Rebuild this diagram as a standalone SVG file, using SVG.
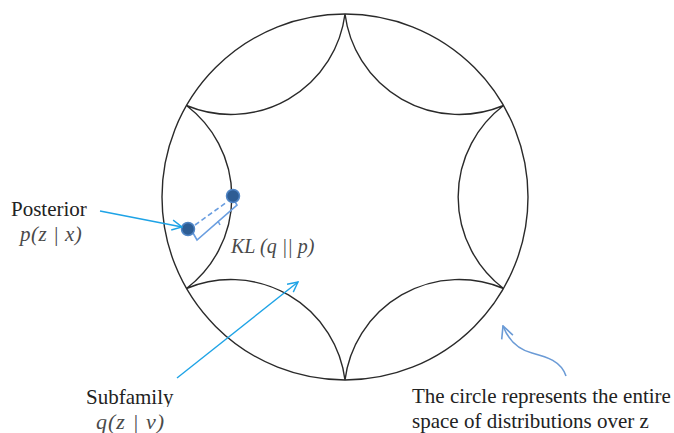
<svg xmlns="http://www.w3.org/2000/svg" width="674" height="433" viewBox="0 0 674 433">
<style>
.ln{fill:none;stroke:#2a2a2a;stroke-width:1.4}
.lbl{font-family:"Liberation Serif","Times New Roman",serif;font-size:21px;fill:#222}
.math{font-family:"Liberation Serif","Times New Roman",serif;font-style:italic;fill:#4a4a4a}
.arr{fill:none;stroke:#1ea3e6;stroke-width:1.4}
.arr2{fill:none;stroke:#6b9bd6;stroke-width:1.6}
.dot{fill:#2e5d94;stroke:#4f84c4;stroke-width:1.5}
.kl{fill:none;stroke:#6a9ee0;stroke-width:1.6}
</style>
<defs>
<marker id="mA" viewBox="0 0 12 12" refX="11" refY="6" markerWidth="12" markerHeight="12" markerUnits="userSpaceOnUse" orient="auto">
<path d="M1,1 L11,6 L1,11" fill="none" stroke="#1ea3e6" stroke-width="1.4"/>
</marker>
<marker id="mB" viewBox="0 0 14 14" refX="13" refY="7" markerWidth="14" markerHeight="14" markerUnits="userSpaceOnUse" orient="auto">
<path d="M1,1 L13,7 L1,13" fill="none" stroke="#6b9bd6" stroke-width="1.6"/>
</marker>
</defs>
<rect width="674" height="433" fill="#fff"/>
<g id="space-circle">
<circle class="ln" cx="345" cy="197" r="183"/>
</g>
<g id="subfamily-region">
<path class="ln" d="M345,14 A115,115 0 0 0 503.5,105.5 A115,115 0 0 0 503.5,288.5 A115,115 0 0 0 345,380 A115,115 0 0 0 186.5,288.5 A115,115 0 0 0 186.5,105.5 A115,115 0 0 0 345,14 Z"/>
</g>
<g id="kl-divergence">
<line class="kl" x1="195" y1="225" x2="227" y2="202" stroke-dasharray="5 3"/>
<path class="kl" d="M193,233 L197,240 L237,205 L234,200"/>
<line class="kl" x1="218" y1="221" x2="220" y2="225"/>
<circle class="dot" cx="233" cy="196" r="6.5"/>
<circle class="dot" cx="188" cy="229" r="6.5"/>
<text class="math" x="231" y="253" font-size="20">KL (q || p)</text>
</g>
<g id="posterior-label">
<text class="lbl" x="11" y="216">Posterior</text>
<text class="math" x="20" y="241" font-size="21" letter-spacing="0.5">p(z | x)</text>
</g>
<g id="subfamily-label">
<text class="lbl" x="86" y="404">Subfamily</text>
<rect x="80" y="407" width="110" height="26" fill="#fff"/>
<text class="math" x="96" y="429" font-size="22" letter-spacing="1">q(z | ν)</text>
</g>
<g id="note">
<text class="lbl" x="412" y="403" fill="#111">The circle represents the entire</text>
<text class="lbl" x="412" y="428" fill="#111">space of distributions over z</text>
</g>
<g id="connectors">
<path class="arr" d="M100,211 L182,227" marker-end="url(#mA)"/>
<path class="arr" d="M177,378 L298,282" marker-end="url(#mA)"/>
<path class="arr2" d="M566,376 C561,361 547,357 532,353 C517,349 508,339 503,326" marker-end="url(#mB)"/>
</g>
</svg>
